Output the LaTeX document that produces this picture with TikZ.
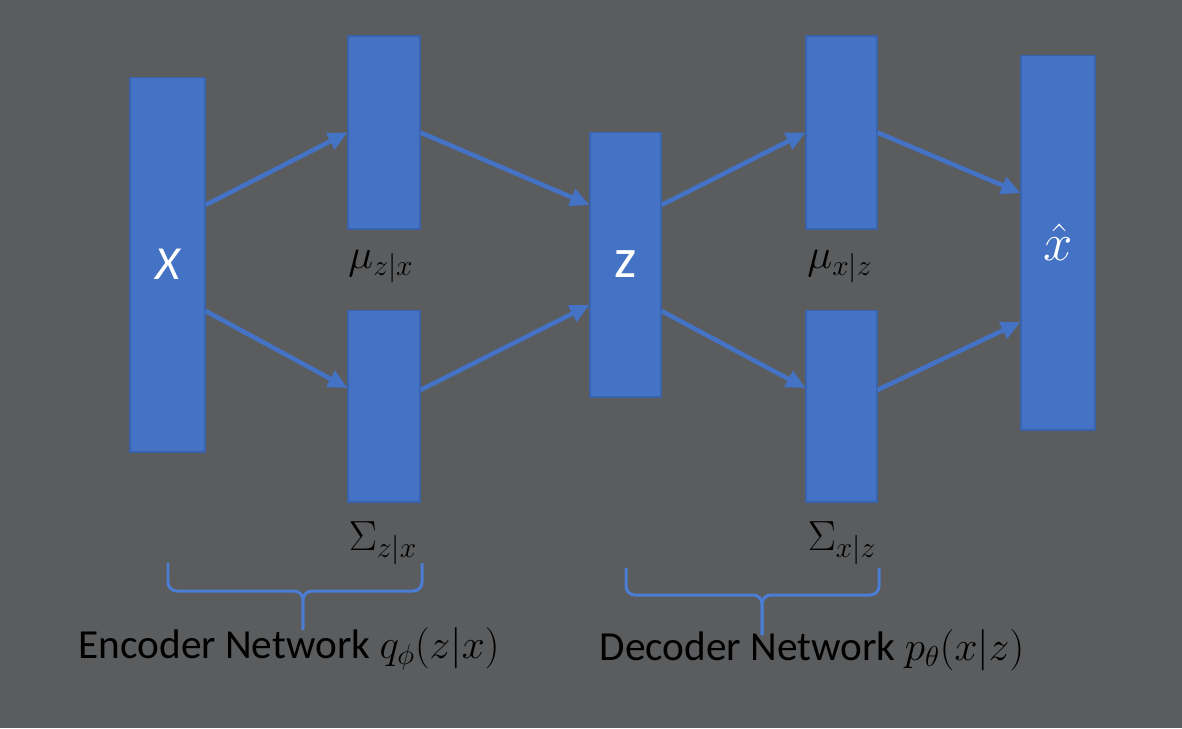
\RequirePackage{fix-cm}
\documentclass[tikz,border=0pt]{standalone}
\usepackage{fontspec}
\setmainfont{Carlito}
\usetikzlibrary{arrows.meta}
\definecolor{slide}{HTML}{5B5C5E}
\definecolor{block}{HTML}{4472C4}
\definecolor{blockline}{HTML}{3A63AE}
\definecolor{bracecol}{HTML}{4A7DD3}
\tikzset{
  layer/.style={rectangle, fill=block, draw=blockline, line width=0.6pt,
    inner sep=0pt, text=white, minimum width=1.44cm},
  flow/.style={-{Triangle[length=11pt,width=10pt]}, draw=block, line width=2.6pt},
  curly/.style={draw=bracecol, line width=1.7pt, rounded corners=5pt},
  lbl/.style={anchor=base, text=black, font=\fontsize{24}{28}\selectfont},
  caption/.style={anchor=base, text=black, font=\fontsize{23.5}{28}\selectfont},
}

\begin{document}
\begin{tikzpicture}[x=0.02cm,y=-0.02cm]
  \fill[slide] (0,0) rectangle (1182,728);
  \useasboundingbox (0,0) rectangle (1182,728);
  % layers
  \draw
    (167.5,264.5) node[layer, minimum width=1.5cm, minimum height=7.5cm,
      font=\fontsize{27}{30}\selectfont\itshape] (x){X}
    (384,132.5) node[layer, minimum height=3.86cm] (muzx){}
    (384,406) node[layer, minimum height=3.84cm] (sigzx){}
    (625.5,264.5) node[layer, minimum width=1.42cm, minimum height=5.3cm,
      font=\fontsize{32}{36}\selectfont] (z){z}
    (841.5,132.5) node[layer, minimum width=1.42cm, minimum height=3.86cm] (muxz){}
    (841.5,406) node[layer, minimum width=1.42cm, minimum height=3.84cm] (sigxz){}
    (1058,242.5) node[layer, minimum width=1.48cm, minimum height=7.5cm,
      font=\fontsize{30}{34}\selectfont] (xhat){$\hat{x}$};
  \draw
    (381,268) node[lbl] (muzxl){$\mu_{z|x}$}
    (383,550) node[lbl] (sigzxl){$\Sigma_{z|x}$}
    (840,268) node[lbl] (muxzl){$\mu_{x|z}$}
    (842,550) node[lbl] (sigxzl){$\Sigma_{x|z}$};
  % connections
  \begin{scope}[flow]
    \draw ([yshift=1.19cm]x.east) to (muzx.west);
    \draw ([yshift=-0.93cm]x.east) to ([yshift=0.36cm]sigzx.west);
    \draw (muzx.east) to ([yshift=1.19cm]z.west);
    \draw ([yshift=0.32cm]sigzx.east) to ([yshift=-0.81cm]z.west);
    \draw ([yshift=1.19cm]z.east) to (muxz.west);
    \draw ([yshift=-0.93cm]z.east) to ([yshift=0.36cm]sigxz.west);
    \draw (muxz.east) to ([yshift=0.99cm]xhat.west);
    \draw ([yshift=0.32cm]sigxz.east) to ([yshift=-1.59cm]xhat.west);
  \end{scope}
  % braces
  \coordinate (el) at (168,563);
  \coordinate (er) at (422,563);
  \coordinate (eh) at (303,591);
  \coordinate (em) at (303,630);
  \coordinate (dl) at (626,568);
  \coordinate (dr) at (879,568);
  \coordinate (dh) at (762,595);
  \coordinate (dm) at (762,635);
  \begin{scope}[curly]
    \draw (el) |- (eh) -- (em);
    \draw (er) |- (eh) -- (em);
    \draw (dl) |- (dh) -- (dm);
    \draw (dr) |- (dh) -- (dm);
  \end{scope}
  \draw
    (289,658) node[caption] (enc){Encoder Network $q_\phi(z|x)$}
    (812,660) node[caption] (dec){Decoder Network $p_\theta(x|z)$};
\end{tikzpicture}
\end{document}
